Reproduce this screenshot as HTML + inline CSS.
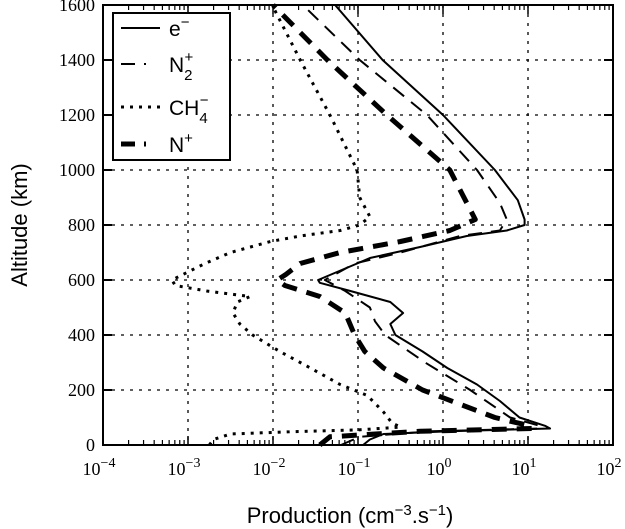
<!DOCTYPE html>
<html><head><meta charset="utf-8"><style>
body{margin:0;background:#fff}
svg{display:block}
.tk{font-family:"Liberation Serif",serif;font-size:18px}
.lg{font-family:"Liberation Sans",sans-serif;font-size:21px}
</style></head><body>
<svg id="chart" width="625" height="529" viewBox="0 0 625 529">
<g id="grid"></g>
<g id="series"></g>
<rect x="103" y="5" width="510" height="440" fill="none" stroke="#000" stroke-width="2"/>
<g id="axes"></g>
<text x="350" y="523" text-anchor="middle" font-family="Liberation Sans, sans-serif" font-size="22">Production (cm<tspan dy="-8" font-size="15">−3</tspan><tspan dy="8">.s</tspan><tspan dy="-8" font-size="15">−1</tspan><tspan dy="8">)</tspan></text>
<text transform="translate(27,225) rotate(-90)" text-anchor="middle" font-family="Liberation Sans, sans-serif" font-size="22">Altitude (km)</text>
<g>
<rect x="113" y="13" width="117" height="147" fill="#fff" stroke="#000" stroke-width="2"/>
<g><line x1="121" y1="28" x2="160" y2="28" stroke="#000" stroke-width="2"/><text class="lg" x="169" y="36">e<tspan dy="-9" font-size="15">−</tspan></text></g>
<g><line x1="121" y1="64" x2="160" y2="64" stroke="#000" stroke-width="2" stroke-dasharray="14,9,2,20"/><text class="lg" x="169" y="72">N<tspan dy="8" font-size="15">2</tspan><tspan dx="-8" dy="-18" font-size="15">+</tspan></text></g>
<g><line x1="121" y1="107" x2="160" y2="107" stroke="#000" stroke-width="3" stroke-dasharray="3,6"/><text class="lg" x="169" y="115">CH<tspan dy="8" font-size="15">4</tspan><tspan dx="-8" dy="-18" font-size="15">−</tspan></text></g>
<g><line x1="121" y1="144" x2="160" y2="144" stroke="#000" stroke-width="5" stroke-dasharray="14,9,2,20"/><text class="lg" x="169" y="152">N<tspan dy="-9" font-size="15">+</tspan></text></g>
</g>
</svg>
<script>
const yTicks=[0,200,400,600,800,1000,1200,1400,1600];
const xDecades=[-4,-3,-2,-1,0,1,2];
const altE=[0,20,40,50,60,70,100,160,220,280,340,400,440,480,520,560,590,600,660,680,720,760,780,800,820,890,1000,1200,1400,1600];
const logE=[-0.94,-0.86,-0.7,0.08,1.26,1.2,0.9,0.67,0.4,0.05,-0.24,-0.56,-0.62,-0.47,-0.62,-1.09,-1.45,-1.47,-1.01,-0.86,-0.27,0.28,0.75,0.96,0.96,0.88,0.61,0,-0.71,-1.27];
const altN2=[0,30,50,60,70,100,200,300,400,450,500,560,600,660,700,760,780,820,880,1000,1200,1400,1600];
const logN2=[-1.2,-0.98,-0.15,1.15,1.14,0.79,0.32,-0.21,-0.68,-0.8,-0.86,-1.15,-1.39,-1.04,-0.5,0.2,0.67,0.75,0.67,0.4,-0.19,-0.98,-1.65];
const altCH4=[0,20,40,48,55,65,80,120,180,220,280,340,400,440,480,520,540,560,580,600,620,660,700,740,760,780,800,830,900,1000,1200,1400,1600];
const logCH4=[-2.75,-2.7,-2.5,-1.8,-1.0,-0.5,-0.6,-0.7,-0.89,-1.21,-1.56,-1.92,-2.24,-2.39,-2.47,-2.42,-2.27,-2.78,-3.15,-3.19,-3.06,-2.8,-2.5,-2.03,-1.68,-1.21,-0.98,-0.86,-0.98,-1.01,-1.33,-1.68,-2.01];
const altNp=[0,30,50,60,70,100,200,280,340,400,480,540,580,600,620,660,700,740,780,820,880,1000,1200,1400,1600];
const logNp=[-1.45,-1.33,-0.27,1.05,1.02,0.61,-0.24,-0.7,-0.92,-1.04,-1.15,-1.45,-1.86,-1.95,-1.85,-1.68,-1.21,-0.5,0.08,0.38,0.28,0.08,-0.66,-1.36,-2.0];
const NS="http://www.w3.org/2000/svg";
const X0=103,PX=85,Y0=445,PY=440/1600;
const sx=l=>X0+(l+4)*PX, sy=a=>Y0-a*PY;
function mk(t,p,attrs){const e=document.createElementNS(NS,t);for(const k in attrs)e.setAttribute(k,attrs[k]);p.appendChild(e);return e;}
const grid=document.getElementById('grid'),axes=document.getElementById('axes'),ser=document.getElementById('series');
yTicks.forEach(v=>{
  if(v>0&&v<1600){const g=mk('line',grid,{x1:X0,x2:613,y1:sy(v),y2:sy(v),stroke:'#000','stroke-width':1.3,'stroke-dasharray':'3,6'});
  
  }
  mk('line',axes,{x1:X0,x2:X0+9,y1:sy(v),y2:sy(v),stroke:'#000','stroke-width':2});
  mk('line',axes,{x1:613,x2:604,y1:sy(v),y2:sy(v),stroke:'#000','stroke-width':2});
  const t=mk('text',axes,{x:95,y:sy(v)+6,'text-anchor':'end',class:'tk'});t.textContent=v;
  
  
});
xDecades.forEach(d=>{
  const x=sx(d);
  if(d>-4&&d<2){const g=mk('line',grid,{x1:x,x2:x,y1:5,y2:445,stroke:'#000','stroke-width':1.3,'stroke-dasharray':'3,6'});
  
  }
  mk('line',axes,{x1:x,x2:x,y1:445,y2:436,stroke:'#000','stroke-width':1.5});
  mk('line',axes,{x1:x,x2:x,y1:5,y2:14,stroke:'#000','stroke-width':1.5});
  if(d<2)for(let m=2;m<10;m++){const xm=x+Math.log10(m)*PX;
    mk('line',axes,{x1:xm,x2:xm,y1:445,y2:440,stroke:'#000','stroke-width':1.2});
    mk('line',axes,{x1:xm,x2:xm,y1:5,y2:10,stroke:'#000','stroke-width':1.2});}
  const t=mk('text',axes,{x:x-4,y:475,'text-anchor':'middle',class:'tk'});
  t.innerHTML='10<tspan dy="-8" font-size="14">'+(d<0?'−'+(-d):d)+'</tspan>';
  
  
});
function line(alts,logs,w,dash,name){
  const d=alts.map((a,i)=>(i?'L':'M')+sx(logs[i]).toFixed(1)+','+sy(a).toFixed(1)).join('');
  const p=mk('path',ser,{d:d,fill:'none',stroke:'#000','stroke-width':w,'stroke-dasharray':dash,'stroke-linejoin':'round'});
  
  
}
line(altCH4,logCH4,3,'3,6','series-ch4-minus');
line(altNp,logNp,5,'15,10','series-n-plus');
line(altN2,logN2,2,'14,9','series-n2-plus');
line(altE,logE,2,'none','series-electrons');
</script>
</body></html>
